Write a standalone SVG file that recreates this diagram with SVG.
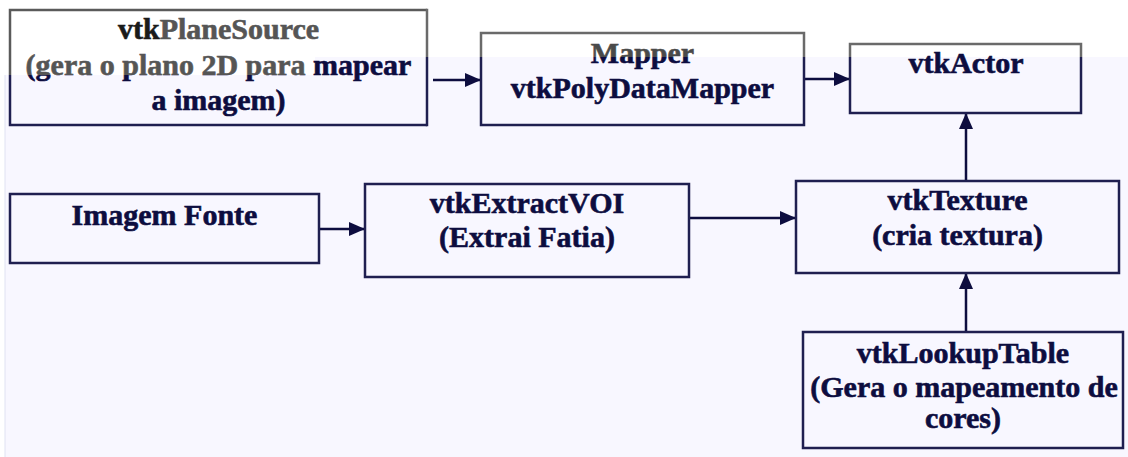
<svg xmlns="http://www.w3.org/2000/svg" width="1128" height="457" viewBox="0 0 1128 457">
<defs>
<style>
.box{fill:none;stroke:#1f1f50;stroke-width:2.5}
.conn{fill:none;stroke:#0d0d3f;stroke-width:2.5}
</style>
<linearGradient id="g57" gradientUnits="userSpaceOnUse" x1="0" y1="0" x2="0" y2="457">
<stop offset="0" stop-color="#6a6a6a"/><stop offset="0.1247" stop-color="#6a6a6a"/><stop offset="0.1247" stop-color="#1f1f50"/><stop offset="1" stop-color="#1f1f50"/>
</linearGradient>
<linearGradient id="t57" gradientUnits="userSpaceOnUse" x1="0" y1="0" x2="0" y2="457">
<stop offset="0" stop-color="#4a4a4a"/><stop offset="0.1247" stop-color="#4a4a4a"/><stop offset="0.1247" stop-color="#0d0d3f"/><stop offset="1" stop-color="#0d0d3f"/>
</linearGradient>
<linearGradient id="g75" gradientUnits="userSpaceOnUse" x1="0" y1="0" x2="0" y2="457">
<stop offset="0" stop-color="#5a5a5a"/><stop offset="0.1641" stop-color="#5a5a5a"/><stop offset="0.1641" stop-color="#1f1f50"/><stop offset="1" stop-color="#1f1f50"/>
</linearGradient>
<linearGradient id="t75" gradientUnits="userSpaceOnUse" x1="0" y1="0" x2="0" y2="457">
<stop offset="0" stop-color="#555555"/><stop offset="0.1641" stop-color="#555555"/><stop offset="0.1641" stop-color="#0d0d3f"/><stop offset="1" stop-color="#0d0d3f"/>
</linearGradient>
<marker id="arr" markerUnits="userSpaceOnUse" markerWidth="16" markerHeight="14" refX="16" refY="7" orient="auto">
<path d="M0,0 L16,7 L0,14 Z" fill="#0d0d3f"/>
</marker>
</defs>
<rect x="0" y="0" width="1128" height="457" fill="#ffffff"/>
<path d="M5,75 H315 V57 H1128 V457 H5 Z" fill="#f8f7ff"/>
<line x1="5" y1="75" x2="5" y2="457" stroke="#dfe2f2" stroke-width="1"/>

<g id="connectors">
<path class="conn" d="M433,80 H481" marker-end="url(#arr)"/>
<path class="conn" d="M804,79 H850" marker-end="url(#arr)"/>
<path class="conn" d="M319,229 H365" marker-end="url(#arr)"/>
<path class="conn" d="M689,218 H796" marker-end="url(#arr)"/>
<path class="conn" d="M966,181 V113" marker-end="url(#arr)"/>
<path class="conn" d="M966,332 V273" marker-end="url(#arr)"/>
</g>

<g font-family="'Liberation Serif', 'DejaVu Serif', serif" font-weight="700" font-size="30" text-anchor="middle" fill="#0d0d3f" stroke="#0d0d3f" stroke-width="0.6">
<g id="vtkPlaneSource">
<path d="M427,10 H10 V125 H427" fill="none" stroke="url(#g75)" stroke-width="2.5"/>
<path d="M427,8.75 V126.25" fill="none" stroke="url(#g57)" stroke-width="2.5"/>
<text x="218.5" y="39"><tspan fill="#1a1a1a" stroke="#1a1a1a">vtk</tspan><tspan fill="#555555" stroke="#555555">PlaneSource</tspan></text>
<text x="218.5" y="75"><tspan fill="url(#t75)" stroke="url(#t75)">(gera o plano 2D para </tspan><tspan>mapear</tspan></text>
<text x="218.5" y="110">a imagem)</text>
</g>

<g id="mapper">
<rect x="481" y="33" width="323" height="92" fill="none" stroke="url(#g57)" stroke-width="2.5"/>
<text x="642.5" y="63" fill="url(#t57)" stroke="url(#t57)">Mapper</text>
<text x="642.5" y="98">vtkPolyDataMapper</text>
</g>

<g id="vtkActor">
<rect x="850" y="44" width="231" height="69" fill="none" stroke="url(#g57)" stroke-width="2.5"/>
<text x="966" y="73">vtkActor</text>
</g>

<g id="imagemFonte">
<rect class="box" x="10" y="194" width="309" height="69"/>
<text x="164.5" y="225">Imagem Fonte</text>
</g>

<g id="vtkExtractVOI">
<rect class="box" x="365" y="184" width="324" height="93"/>
<text x="527" y="213">vtkExtractVOI</text>
<text x="527" y="247">(Extrai Fatia)</text>
</g>

<g id="vtkTexture">
<rect class="box" x="796" y="181" width="323" height="92"/>
<text x="957.5" y="210">vtkTexture</text>
<text x="957.5" y="245">(cria textura)</text>
</g>

<g id="vtkLookupTable">
<rect class="box" x="803" y="332" width="320" height="116"/>
<text x="963" y="363">vtkLookupTable</text>
<text x="964" y="397">(Gera o mapeamento de</text>
<text x="963" y="428">cores)</text>
</g>
</g>
</svg>
